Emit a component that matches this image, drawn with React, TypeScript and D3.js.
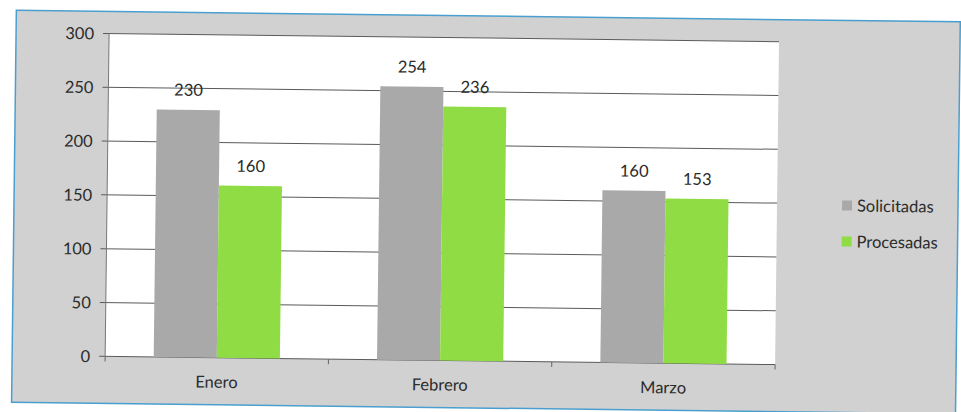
import * as React from 'react'
import * as d3 from 'd3'

const months = ['Enero', 'Febrero', 'Marzo']
const seriesNames = ['Solicitadas', 'Procesadas']
const solicitadas = [230, 254, 160]
const procesadas = [160, 236, 153]
const yTicks = [0, 50, 100, 150, 200, 250, 300]
const colors = ['#a9a9a9', '#8fdc45']

const W = 961
const H = 412

function drawChart(svgEl: SVGSVGElement) {
	const svg = d3.select(svgEl)
	svg.selectAll('*').remove()

	const dim = { left: 107, right: 777, top: 38, bottom: 361 }
	const font = 'Lato, "Open Sans", sans-serif'
	const fs = 16.5

	// scan is a bit tilted, keep it
	const root = svg.append('g').attr('transform', `rotate(0.7, ${W / 2}, ${H / 2})`)

	root.append('rect')
		.attr('x', 14).attr('y', 16)
		.attr('width', 944).attr('height', 392)
		.attr('fill', '#d1d1d1')
		.attr('stroke', '#4a9fd0')
		.attr('stroke-width', 1.5)

	root.append('rect')
		.attr('x', dim.left).attr('y', dim.top)
		.attr('width', dim.right - dim.left).attr('height', dim.bottom - dim.top)
		.attr('fill', '#ffffff')

	const y = d3.scaleLinear().domain([0, 300]).range([dim.bottom, dim.top])
	const x = d3.scaleBand().domain(months).range([dim.left, dim.right]).padding(0)
	const groupW = x.bandwidth() * 0.565
	const xs = d3.scaleBand().domain(seriesNames).range([0, groupW]).padding(0)

	// gridlines
	root.append('g')
		.selectAll('line')
		.data(yTicks)
		.enter()
		.append('line')
		.attr('x1', dim.left - 6).attr('x2', dim.right)
		.attr('y1', d => y(d)).attr('y2', d => y(d))
		.attr('stroke', '#5a5a5a')
		.attr('stroke-width', 1)

	root.append('line')
		.attr('x1', dim.left).attr('x2', dim.left)
		.attr('y1', dim.top).attr('y2', dim.bottom)
		.attr('stroke', '#777').attr('stroke-width', 1)

	root.append('g')
		.selectAll('text')
		.data(yTicks)
		.enter()
		.append('text')
		.attr('x', dim.left - 15)
		.attr('y', d => y(d) + 6)
		.attr('text-anchor', 'end')
		.attr('font-family', font)
		.attr('font-size', fs)
		.attr('fill', '#2b2b2b')
		.text(d => d)

	// x ticks at category edges
	const edges = [...months.map(m => x(m)!), dim.right]
	root.append('g')
		.selectAll('line')
		.data(edges)
		.enter()
		.append('line')
		.attr('x1', d => d).attr('x2', d => d)
		.attr('y1', dim.bottom).attr('y2', dim.bottom + 5)
		.attr('stroke', '#666')

	root.append('g')
		.selectAll('text')
		.data(months)
		.enter()
		.append('text')
		.attr('x', d => x(d)! + x.bandwidth() / 2)
		.attr('y', dim.bottom + 30)
		.attr('text-anchor', 'middle')
		.attr('font-family', font)
		.attr('font-size', fs)
		.attr('fill', '#2b2b2b')
		.text(d => d)

	const series = [solicitadas, procesadas]
	series.forEach((vals, si) => {
		const g = root.append('g')
		const bars = months.map((m, i) => ({ m, v: vals[i] }))
		g.selectAll('rect')
			.data(bars)
			.enter()
			.append('rect')
			.attr('x', d => x(d.m)! + (x.bandwidth() - groupW) / 2 + xs(seriesNames[si])!)
			.attr('width', xs.bandwidth())
			.attr('y', d => y(d.v))
			.attr('height', d => dim.bottom - y(d.v))
			.attr('fill', colors[si])
		g.selectAll('text')
			.data(bars)
			.enter()
			.append('text')
			.attr('x', d => x(d.m)! + (x.bandwidth() - groupW) / 2 + xs(seriesNames[si])! + xs.bandwidth() / 2)
			.attr('y', d => y(d.v) - 14)
			.attr('text-anchor', 'middle')
			.attr('font-family', font)
			.attr('font-size', fs)
			.attr('fill', '#2b2b2b')
			.text(d => d.v)
	})

	// legend
	const legend = root.append('g').attr('transform', 'translate(842, 196)')
	seriesNames.forEach((s, i) => {
		legend.append('rect')
			.attr('x', 0).attr('y', i * 36)
			.attr('width', 10).attr('height', 10)
			.attr('fill', colors[i])
		legend.append('text')
			.attr('x', 15).attr('y', i * 36 + 11)
			.attr('font-family', font)
			.attr('font-size', fs)
			.attr('fill', '#2b2b2b')
			.text(s)
	})
}

const App: React.FC = () => {
	const svgRef = React.useRef<SVGSVGElement>(null)

	React.useEffect(() => {
		if (svgRef.current) drawChart(svgRef.current)
	}, [])

	return (
		<svg ref={svgRef} width={W} height={H}
			style={{ position: 'absolute', left: 0, top: 0, background: '#fff' }} />
	)
}

export default App
